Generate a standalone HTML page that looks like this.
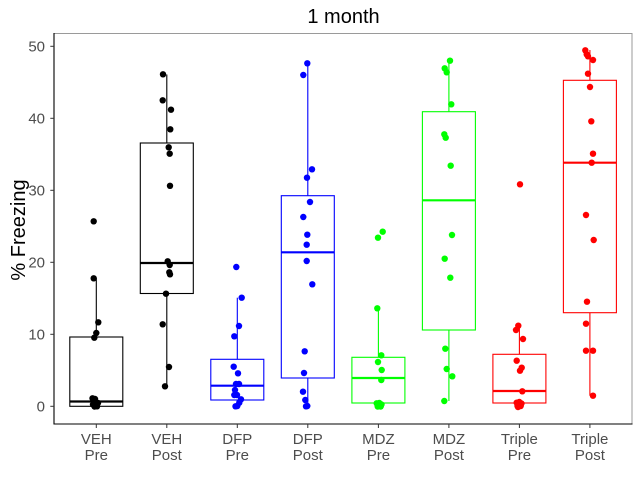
<!DOCTYPE html>
<html><head><meta charset="utf-8"><style>
html,body{margin:0;padding:0;background:#fff;}
svg{display:block;}
text{font-family:"Liberation Sans",Arial,sans-serif;}
</style></head><body>
<svg width="640" height="492" viewBox="0 0 640 492" xmlns="http://www.w3.org/2000/svg">
<rect x="0" y="0" width="640" height="492" fill="#fff"/>
<!-- title -->
<text x="343.5" y="23" font-size="20" text-anchor="middle" fill="#000">1 month</text>
<!-- y label -->
<text transform="translate(25,230) rotate(-90)" font-size="20" text-anchor="middle" fill="#000">% Freezing</text>
<!-- panel border -->
<rect x="54" y="33.5" width="578" height="390.5" fill="none" stroke="#9a9a9a" stroke-width="1"/>
<line x1="54" y1="33" x2="54" y2="424.5" stroke="#000" stroke-width="1.1"/>
<line x1="53.5" y1="424" x2="632.5" y2="424" stroke="#000" stroke-width="1.1"/>
<!-- y ticks -->
<g stroke="#333" stroke-width="1">
<line x1="50.3" y1="46.3" x2="54" y2="46.3"/>
<line x1="50.3" y1="118.3" x2="54" y2="118.3"/>
<line x1="50.3" y1="190.3" x2="54" y2="190.3"/>
<line x1="50.3" y1="262.3" x2="54" y2="262.3"/>
<line x1="50.3" y1="334.3" x2="54" y2="334.3"/>
<line x1="50.3" y1="406.3" x2="54" y2="406.3"/>
</g>
<g font-size="15" fill="#4d4d4d" text-anchor="end">
<text x="45" y="51.7">50</text>
<text x="45" y="123.7">40</text>
<text x="45" y="195.7">30</text>
<text x="45" y="267.7">20</text>
<text x="45" y="339.7">10</text>
<text x="45" y="411.7">0</text>
</g>
<!-- x ticks -->
<g stroke="#333" stroke-width="1">
<line x1="96.3" y1="424" x2="96.3" y2="428"/>
<line x1="166.8" y1="424" x2="166.8" y2="428"/>
<line x1="237.3" y1="424" x2="237.3" y2="428"/>
<line x1="307.8" y1="424" x2="307.8" y2="428"/>
<line x1="378.4" y1="424" x2="378.4" y2="428"/>
<line x1="448.9" y1="424" x2="448.9" y2="428"/>
<line x1="519.4" y1="424" x2="519.4" y2="428"/>
<line x1="589.9" y1="424" x2="589.9" y2="428"/>
</g>
<g font-size="15" fill="#4d4d4d" text-anchor="middle">
<text x="96.3" y="444">VEH</text><text x="96.3" y="460">Pre</text>
<text x="166.8" y="444">VEH</text><text x="166.8" y="460">Post</text>
<text x="237.3" y="444">DFP</text><text x="237.3" y="460">Pre</text>
<text x="307.8" y="444">DFP</text><text x="307.8" y="460">Post</text>
<text x="378.4" y="444">MDZ</text><text x="378.4" y="460">Pre</text>
<text x="448.9" y="444">MDZ</text><text x="448.9" y="460">Post</text>
<text x="519.4" y="444">Triple</text><text x="519.4" y="460">Pre</text>
<text x="589.9" y="444">Triple</text><text x="589.9" y="460">Post</text>
</g>

<!-- VEH Pre -->
<g stroke="#000" fill="none" stroke-width="1.1">
<line x1="96.3" y1="337" x2="96.3" y2="278.3"/>
<rect x="69.8" y="337" width="53" height="69.3"/>
<line x1="69.8" y1="401.5" x2="122.8" y2="401.5" stroke-width="2.2"/>
</g>
<g fill="#000">
<circle cx="93.7" cy="221.3" r="3.2"/><circle cx="93.7" cy="278.3" r="3.2"/>
<circle cx="98.3" cy="322.3" r="3.2"/><circle cx="96.3" cy="333" r="3.2"/>
<circle cx="94.3" cy="337.7" r="3.2"/><circle cx="92.5" cy="398.3" r="3.2"/>
<circle cx="95" cy="399" r="3.2"/><circle cx="95.5" cy="402" r="3.2"/>
<circle cx="98" cy="403" r="3.2"/><circle cx="93" cy="404.5" r="3.2"/>
<circle cx="96" cy="405.5" r="3.2"/><circle cx="94.5" cy="406.5" r="3.2"/>
<circle cx="97" cy="406.3" r="3.2"/>
</g>

<!-- VEH Post -->
<g stroke="#000" fill="none" stroke-width="1.1">
<line x1="166.8" y1="143" x2="166.8" y2="74.5"/>
<line x1="166.8" y1="293.5" x2="166.8" y2="386.3"/>
<rect x="140.3" y="143" width="53" height="150.5"/>
<line x1="140.3" y1="263" x2="193.3" y2="263" stroke-width="2.2"/>
</g>
<g fill="#000">
<circle cx="163" cy="74.3" r="3.2"/><circle cx="162.7" cy="100.3" r="3.2"/>
<circle cx="171" cy="109.7" r="3.2"/><circle cx="170.3" cy="129.3" r="3.2"/>
<circle cx="168.7" cy="147.3" r="3.2"/><circle cx="169.7" cy="153.7" r="3.2"/>
<circle cx="170" cy="185.8" r="3.2"/><circle cx="167.7" cy="261.3" r="3.2"/>
<circle cx="169.7" cy="265" r="3.2"/><circle cx="169.3" cy="272.3" r="3.2"/>
<circle cx="170" cy="274.3" r="3.2"/><circle cx="166" cy="293.7" r="3.2"/>
<circle cx="162.7" cy="324.3" r="3.2"/><circle cx="169" cy="367" r="3.2"/>
<circle cx="165" cy="386.3" r="3.2"/>
</g>

<!-- DFP Pre -->
<g stroke="#0000ff" fill="none" stroke-width="1.1">
<line x1="237.3" y1="359.3" x2="237.3" y2="297.7"/>
<line x1="237.3" y1="400" x2="237.3" y2="406.3"/>
<rect x="210.8" y="359.3" width="53" height="40.7"/>
<line x1="210.8" y1="385.7" x2="263.8" y2="385.7" stroke-width="2.2"/>
</g>
<g fill="#0000ff">
<circle cx="236.3" cy="267" r="3.2"/><circle cx="241.7" cy="297.7" r="3.2"/>
<circle cx="239" cy="326" r="3.2"/><circle cx="234.3" cy="336.3" r="3.2"/>
<circle cx="233.7" cy="366.7" r="3.2"/><circle cx="238" cy="373.3" r="3.2"/>
<circle cx="236" cy="384" r="3.2"/><circle cx="239" cy="384" r="3.2"/>
<circle cx="235" cy="390" r="3.2"/><circle cx="234.3" cy="395" r="3.2"/>
<circle cx="237" cy="395" r="3.2"/><circle cx="241" cy="399.3" r="3.2"/>
<circle cx="239.3" cy="402.7" r="3.2"/><circle cx="237.3" cy="406" r="3.2"/>
<circle cx="235.5" cy="406.3" r="3.2"/>
</g>

<!-- DFP Post -->
<g stroke="#0000ff" fill="none" stroke-width="1.1">
<line x1="307.8" y1="195.7" x2="307.8" y2="63.3"/>
<line x1="307.8" y1="378" x2="307.8" y2="406.3"/>
<rect x="281.3" y="195.7" width="53" height="182.3"/>
<line x1="281.3" y1="252.3" x2="334.3" y2="252.3" stroke-width="2.2"/>
</g>
<g fill="#0000ff">
<circle cx="307.3" cy="63.3" r="3.2"/><circle cx="303.3" cy="75" r="3.2"/>
<circle cx="312" cy="169.3" r="3.2"/><circle cx="307" cy="177.7" r="3.2"/>
<circle cx="310" cy="202" r="3.2"/><circle cx="303.3" cy="217" r="3.2"/>
<circle cx="307.3" cy="234.7" r="3.2"/><circle cx="306.7" cy="244.7" r="3.2"/>
<circle cx="306.7" cy="261" r="3.2"/><circle cx="312.3" cy="284.3" r="3.2"/>
<circle cx="304.7" cy="351.3" r="3.2"/><circle cx="304" cy="373" r="3.2"/>
<circle cx="303" cy="391.7" r="3.2"/><circle cx="305.3" cy="400" r="3.2"/>
<circle cx="307.3" cy="406" r="3.2"/><circle cx="306" cy="406.3" r="3.2"/>
</g>

<!-- MDZ Pre -->
<g stroke="#00ff00" fill="none" stroke-width="1.1">
<line x1="378.4" y1="357.3" x2="378.4" y2="308.3"/>
<line x1="378.4" y1="403" x2="378.4" y2="406.3"/>
<rect x="351.9" y="357.3" width="53" height="45.7"/>
<line x1="351.9" y1="378" x2="404.9" y2="378" stroke-width="2.2"/>
</g>
<g fill="#00ff00">
<circle cx="382.7" cy="231.7" r="3.2"/><circle cx="378" cy="237.7" r="3.2"/>
<circle cx="377.3" cy="308.3" r="3.2"/><circle cx="381.3" cy="355.3" r="3.2"/>
<circle cx="378" cy="362" r="3.2"/><circle cx="381.7" cy="370" r="3.2"/>
<circle cx="381.3" cy="380" r="3.2"/><circle cx="376.7" cy="403.3" r="3.2"/>
<circle cx="379.3" cy="403" r="3.2"/><circle cx="377.7" cy="406.5" r="3.2"/>
<circle cx="380.7" cy="406.5" r="3.2"/><circle cx="378.5" cy="405" r="3.2"/>
<circle cx="381.5" cy="404.5" r="3.2"/>
</g>

<!-- MDZ Post -->
<g stroke="#00ff00" fill="none" stroke-width="1.1">
<line x1="448.9" y1="111.7" x2="448.9" y2="60.7"/>
<line x1="448.9" y1="330" x2="448.9" y2="401"/>
<rect x="422.4" y="111.7" width="53" height="218.3"/>
<line x1="422.4" y1="200.3" x2="475.4" y2="200.3" stroke-width="2.2"/>
</g>
<g fill="#00ff00">
<circle cx="450" cy="60.7" r="3.2"/><circle cx="444.7" cy="68.3" r="3.2"/>
<circle cx="446.7" cy="72.3" r="3.2"/><circle cx="451.3" cy="104.3" r="3.2"/>
<circle cx="444.3" cy="134.3" r="3.2"/><circle cx="445.7" cy="137.7" r="3.2"/>
<circle cx="450.7" cy="165.7" r="3.2"/><circle cx="452" cy="235" r="3.2"/>
<circle cx="444.7" cy="258.7" r="3.2"/><circle cx="450.3" cy="277.7" r="3.2"/>
<circle cx="445.3" cy="348.7" r="3.2"/><circle cx="446.7" cy="369" r="3.2"/>
<circle cx="452.3" cy="376.3" r="3.2"/><circle cx="444.3" cy="401" r="3.2"/>
</g>

<!-- Triple Pre -->
<g stroke="#ff0000" fill="none" stroke-width="1.1">
<line x1="519.4" y1="354.3" x2="519.4" y2="325.3"/>
<line x1="519.4" y1="403" x2="519.4" y2="406.3"/>
<rect x="492.9" y="354.3" width="53" height="48.7"/>
<line x1="492.9" y1="391" x2="545.9" y2="391" stroke-width="2.2"/>
</g>
<g fill="#ff0000">
<circle cx="520" cy="184.3" r="3.2"/><circle cx="518.3" cy="325.7" r="3.2"/>
<circle cx="516" cy="330" r="3.2"/><circle cx="523" cy="339" r="3.2"/>
<circle cx="516.7" cy="360.7" r="3.2"/><circle cx="521.7" cy="367.7" r="3.2"/>
<circle cx="520" cy="370.7" r="3.2"/><circle cx="522.3" cy="391.3" r="3.2"/>
<circle cx="516.7" cy="402.7" r="3.2"/><circle cx="519.3" cy="402" r="3.2"/>
<circle cx="520.7" cy="406" r="3.2"/><circle cx="517.5" cy="406" r="3.2"/>
<circle cx="519" cy="405" r="3.2"/><circle cx="521.5" cy="403.5" r="3.2"/>
<circle cx="518" cy="407" r="3.2"/>
</g>

<!-- Triple Post -->
<g stroke="#ff0000" fill="none" stroke-width="1.1">
<line x1="589.9" y1="80.3" x2="589.9" y2="50"/>
<line x1="589.9" y1="312.7" x2="589.9" y2="395.7"/>
<rect x="563.4" y="80.3" width="53" height="232.4"/>
<line x1="563.4" y1="162.7" x2="616.4" y2="162.7" stroke-width="2.2"/>
</g>
<g fill="#ff0000">
<circle cx="585.3" cy="50.3" r="3.2"/><circle cx="586.7" cy="54.3" r="3.2"/>
<circle cx="588" cy="56.3" r="3.2"/><circle cx="593" cy="60" r="3.2"/>
<circle cx="588" cy="73.7" r="3.2"/><circle cx="590" cy="87" r="3.2"/>
<circle cx="591.3" cy="121.3" r="3.2"/><circle cx="593" cy="153.7" r="3.2"/>
<circle cx="591.7" cy="162.7" r="3.2"/><circle cx="586" cy="215" r="3.2"/>
<circle cx="593.7" cy="240" r="3.2"/><circle cx="587" cy="301.7" r="3.2"/>
<circle cx="586" cy="323.7" r="3.2"/><circle cx="586" cy="350.7" r="3.2"/>
<circle cx="593" cy="350.7" r="3.2"/><circle cx="593" cy="395.7" r="3.2"/>
</g>
</svg>
</body></html>
